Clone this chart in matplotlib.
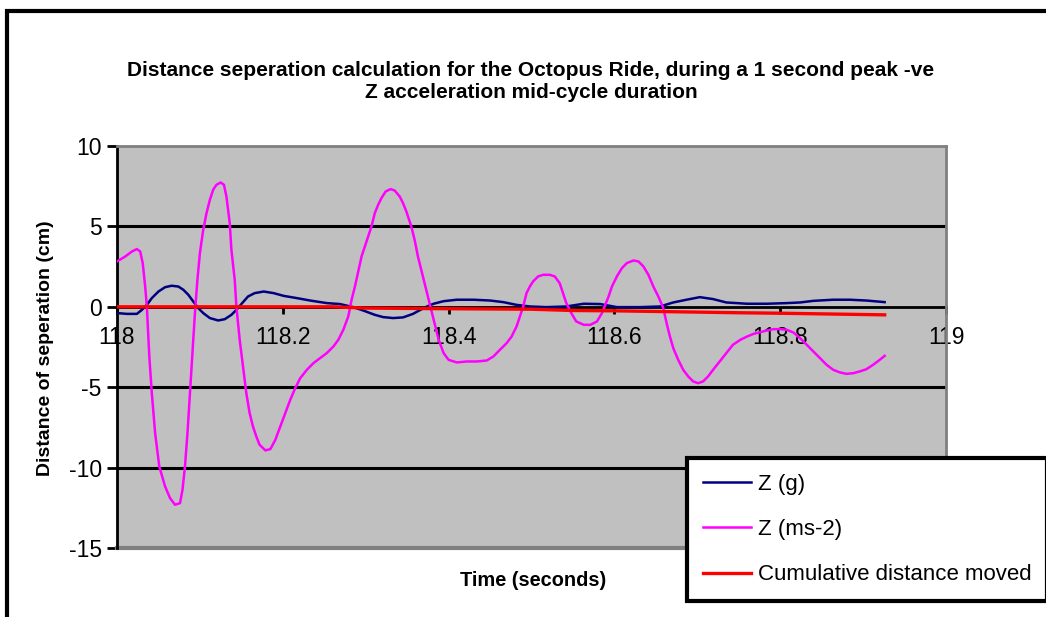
import matplotlib
matplotlib.use("Agg")
import matplotlib.pyplot as plt
from matplotlib.patches import Rectangle

plt.rcParams['font.family'] = ['Liberation Sans', 'DejaVu Sans']
plt.rcParams['axes.unicode_minus'] = False

title = ("Distance seperation calculation for the Octopus Ride, during a 1 second peak -ve\n"
         "Z acceleration mid-cycle duration")
x_label = "Time (seconds)"
y_label = "Distance of seperation (cm)"

# Z (g) - navy
zg_t = [118.000, 118.012, 118.024, 118.030, 118.036, 118.042, 118.050, 118.058, 118.066,
        118.074, 118.080, 118.086, 118.092, 118.098, 118.104, 118.112, 118.122, 118.130,
        118.138, 118.144, 118.150, 118.158, 118.166, 118.177, 118.189, 118.201, 118.217,
        118.233, 118.253, 118.269, 118.285, 118.297, 118.311, 118.321, 118.333, 118.345,
        118.357, 118.366, 118.374, 118.382, 118.394, 118.410, 118.430, 118.450, 118.466,
        118.482, 118.498, 118.518, 118.542, 118.563, 118.583, 118.603, 118.631, 118.655,
        118.671, 118.687, 118.703, 118.719, 118.735, 118.760, 118.784, 118.808, 118.824,
        118.840, 118.864, 118.884, 118.904, 118.926]
zg_v = [-0.39, -0.44, -0.44, -0.19, 0.12, 0.54, 0.95, 1.22, 1.31,
        1.26, 1.06, 0.75, 0.33, -0.08, -0.39, -0.70, -0.85, -0.77,
        -0.50, -0.19, 0.17, 0.64, 0.85, 0.95, 0.85, 0.68, 0.54,
        0.39, 0.23, 0.17, -0.02, -0.23, -0.50, -0.64, -0.70, -0.66,
        -0.44, -0.19, 0.02, 0.19, 0.35, 0.44, 0.44, 0.39, 0.29,
        0.12, 0.02, -0.02, 0.02, 0.19, 0.17, -0.02, -0.02, 0.02,
        0.27, 0.44, 0.60, 0.48, 0.27, 0.19, 0.19, 0.23, 0.27,
        0.37, 0.44, 0.44, 0.39, 0.29]

# Z (ms-2) - magenta
zm_t = [118.000, 118.010, 118.018, 118.024, 118.028, 118.031, 118.034, 118.036, 118.039,
        118.042, 118.046, 118.051, 118.058, 118.064, 118.070, 118.076, 118.079, 118.082,
        118.085, 118.088, 118.091, 118.094, 118.097, 118.100, 118.104, 118.108, 118.112,
        118.116, 118.120, 118.125, 118.129, 118.132, 118.136, 118.138, 118.142, 118.144,
        118.148, 118.152, 118.156, 118.160, 118.164, 118.168, 118.172, 118.179, 118.185,
        118.191, 118.197, 118.203, 118.209, 118.215, 118.221, 118.229, 118.237, 118.245,
        118.253, 118.261, 118.267, 118.273, 118.279, 118.283, 118.287, 118.291, 118.295,
        118.299, 118.303, 118.307, 118.311, 118.315, 118.319, 118.324, 118.330, 118.335,
        118.341, 118.345, 118.349, 118.355, 118.359, 118.363, 118.368, 118.372, 118.376,
        118.380, 118.384, 118.388, 118.394, 118.400, 118.410, 118.422, 118.434, 118.446,
        118.454, 118.462, 118.470, 118.476, 118.482, 118.486, 118.490, 118.494, 118.498,
        118.502, 118.508, 118.514, 118.522, 118.528, 118.534, 118.538, 118.542, 118.548,
        118.554, 118.563, 118.571, 118.579, 118.585, 118.589, 118.593, 118.597, 118.603,
        118.609, 118.615, 118.623, 118.629, 118.635, 118.641, 118.647, 118.653, 118.659,
        118.663, 118.667, 118.671, 118.677, 118.683, 118.689, 118.695, 118.701, 118.707,
        118.713, 118.719, 118.727, 118.735, 118.743, 118.752, 118.760, 118.768, 118.776,
        118.784, 118.792, 118.800, 118.808, 118.816, 118.824, 118.832, 118.840, 118.848,
        118.856, 118.864, 118.872, 118.880, 118.888, 118.896, 118.904, 118.912, 118.920,
        118.926]
zm_v = [2.82, 3.13, 3.44, 3.59, 3.44, 2.72, 1.26, 0.02, -3.09,
        -5.37, -7.86, -9.93, -11.17, -11.90, -12.31, -12.21, -11.38, -9.93,
        -7.86, -5.37, -2.88, -0.39, 1.68, 3.34, 4.79, 5.83, 6.65,
        7.28, 7.59, 7.73, 7.59, 6.86, 5.20, 3.54, 1.68, 0.02,
        -2.05, -3.71, -5.37, -6.61, -7.44, -8.06, -8.58, -8.93, -8.85,
        -8.27, -7.44, -6.61, -5.78, -5.06, -4.44, -3.92, -3.50, -3.19,
        -2.88, -2.47, -2.05, -1.43, -0.60, 0.44, 1.26, 2.20, 3.13,
        3.75, 4.37, 5.00, 5.83, 6.34, 6.76, 7.17, 7.32, 7.23,
        6.86, 6.45, 5.93, 5.00, 4.17, 3.13, 2.09, 1.26, 0.44,
        -0.39, -1.22, -2.05, -2.88, -3.30, -3.46, -3.40, -3.40, -3.34,
        -3.09, -2.67, -2.26, -1.85, -1.22, -0.60, 0.02, 0.85, 1.26,
        1.58, 1.89, 1.99, 1.99, 1.89, 1.47, 0.85, 0.23, -0.39,
        -0.91, -1.12, -1.12, -0.91, -0.39, 0.12, 0.64, 1.26, 1.89,
        2.40, 2.72, 2.88, 2.82, 2.51, 1.99, 1.26, 0.64, -0.08,
        -1.02, -1.85, -2.57, -3.30, -3.92, -4.33, -4.64, -4.75, -4.64,
        -4.33, -3.92, -3.40, -2.88, -2.36, -2.05, -1.85, -1.68, -1.58,
        -1.47, -1.39, -1.39, -1.43, -1.60, -1.95, -2.36, -2.78, -3.19,
        -3.61, -3.92, -4.08, -4.17, -4.13, -4.02, -3.88, -3.61, -3.30,
        -3.05]

# Cumulative distance moved - red
cum_t = [118.000, 118.100, 118.200, 118.260, 118.300, 118.400, 118.500, 118.550, 118.600,
         118.650, 118.700, 118.750, 118.800, 118.850, 118.926]
cum_v = [0.0, 0.0, 0.0, 0.0, -0.08, -0.12, -0.15, -0.23, -0.25,
         -0.29, -0.33, -0.37, -0.40, -0.44, -0.50]

x_ticks = [118, 118.2, 118.4, 118.6, 118.8, 119]
x_tick_labels = ["118", "118.2", "118.4", "118.6", "118.8", "119"]
y_ticks = [-15, -10, -5, 0, 5, 10]
grid_levels = [5, -5, -10]

W, H = 1046, 617
fig = plt.figure(figsize=(W / 100, H / 100), dpi=100)
fig.patch.set_facecolor('white')

ax = fig.add_axes([117 / W, 1 - 548 / H, 829 / W, 402 / H])
ax.set_facecolor('#C0C0C0')
ax.set_xlim(118, 119)
ax.set_ylim(-15, 10)

for g in grid_levels:
    ax.axhline(g, color='black', linewidth=2.2, zorder=1)

l1, = ax.plot(zg_t, zg_v, color='#000080', linewidth=1.8, label='Z (g)', zorder=3)
l2, = ax.plot(zm_t, zm_v, color='#FF00FF', linewidth=1.8, label='Z (ms-2)', zorder=4)
l3, = ax.plot(cum_t, cum_v, color='#FF0000', linewidth=2.4, label='Cumulative distance moved', zorder=5)

# spines
ax.spines['left'].set_color('black')
ax.spines['left'].set_linewidth(2)
ax.spines['top'].set_color('#808080')
ax.spines['top'].set_linewidth(2)
ax.spines['right'].set_color('#808080')
ax.spines['right'].set_linewidth(2)
ax.spines['bottom'].set_position(('data', 0))
ax.spines['bottom'].set_color('black')
ax.spines['bottom'].set_linewidth(2)
ax.spines['bottom'].set_zorder(2)
ax.axhline(-15, color='#808080', linewidth=3, clip_on=False, zorder=2)

ax.set_xticks(x_ticks)
ax.set_xticklabels(x_tick_labels)
ax.set_yticks(y_ticks)
ax.tick_params(axis='x', direction='out', length=5, width=2, pad=9, labelsize=16.5)
ax.tick_params(axis='y', direction='out', length=7, width=2, pad=4, labelsize=16.5)

fig.text(531 / W, 1 - 82 / H, title, ha='center', va='center', fontsize=15,
         fontweight='bold', linespacing=1.2)
fig.text(46 / W, 1 - 348 / H, y_label, ha='center', va='center', rotation=90,
         fontsize=14, fontweight='bold')
fig.text(533 / W, 1 - 580 / H, x_label, ha='center', va='center',
         fontsize=14.4, fontweight='bold')

leg = fig.legend(handles=[l1, l2, l3], loc='upper left',
                 bbox_to_anchor=(687 / W, 1 - 458 / H), bbox_transform=fig.transFigure,
                 fontsize=16, frameon=True, fancybox=False, framealpha=1,
                 handlelength=2.2, handletextpad=0.3, labelspacing=1.1,
                 borderpad=0.7, borderaxespad=0)
leg.get_frame().set_edgecolor('black')
leg.get_frame().set_linewidth(3)
leg.get_frame().set_facecolor('white')
leg.set_zorder(10)

# outer frame of the chart object
fig.add_artist(Rectangle((7 / W, -0.1), 1.2, 1 - 11 / H + 0.1, transform=fig.transFigure,
                         fill=False, edgecolor='black', linewidth=3))

fig.savefig("out.png", dpi=100)
